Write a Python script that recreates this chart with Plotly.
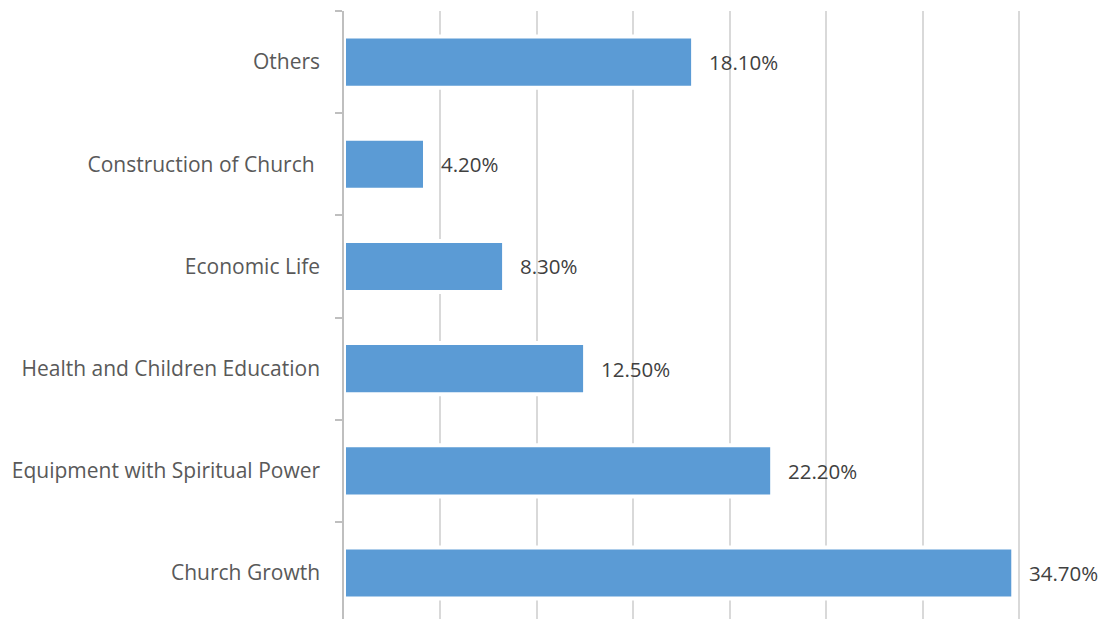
import plotly.graph_objects as go

categories = [
    "Church Growth",
    "Equipment with Spiritual Power",
    "Health and Children Education",
    "Economic Life",
    "Construction of Church ",
    "Others",
]
values = [34.7, 22.2, 12.5, 8.3, 4.2, 18.1]
value_labels = ["34.70%", "22.20%", "12.50%", "8.30%", "4.20%", "18.10%"]

FONT = "Open Sans"

fig = go.Figure(
    go.Bar(
        y=categories,
        x=values,
        orientation="h",
        width=0.5,
        marker=dict(color="#5B9BD5", line=dict(color="#FFFFFF", width=4)),
    )
)

# value labels placed just past the end of each bar
for cat, val, lab in zip(categories, values, value_labels):
    fig.add_annotation(
        x=val, y=cat, text=lab, showarrow=False,
        xanchor="left", yanchor="middle", xshift=14,
        font=dict(family=FONT, size=20.5, color="#404040"),
    )

fig.update_layout(
    width=1109,
    height=619,
    margin=dict(l=344, r=88, t=11, b=0),
    plot_bgcolor="#FFFFFF",
    paper_bgcolor="#FFFFFF",
    showlegend=False,
    font=dict(family=FONT, size=21, color="#595959"),
)

fig.update_xaxes(
    range=[0, 35.1],
    dtick=5,
    showgrid=True,
    gridcolor="#D9D9D9",
    gridwidth=1.5,
    showticklabels=False,
    zeroline=False,
    showline=False,
    ticks="",
)

fig.update_yaxes(
    type="category",
    categoryorder="array",
    categoryarray=categories,
    range=[-0.45, 5.5],
    showline=True,
    linecolor="#BFBFBF",
    linewidth=1.5,
    ticks="outside",
    tickson="boundaries",
    ticklen=7,
    tickcolor="#BFBFBF",
    tickwidth=1.5,
    showgrid=False,
    ticklabelstandoff=18,
    tickfont=dict(family=FONT, size=21, color="#595959"),
)

fig.write_html("out.html")
